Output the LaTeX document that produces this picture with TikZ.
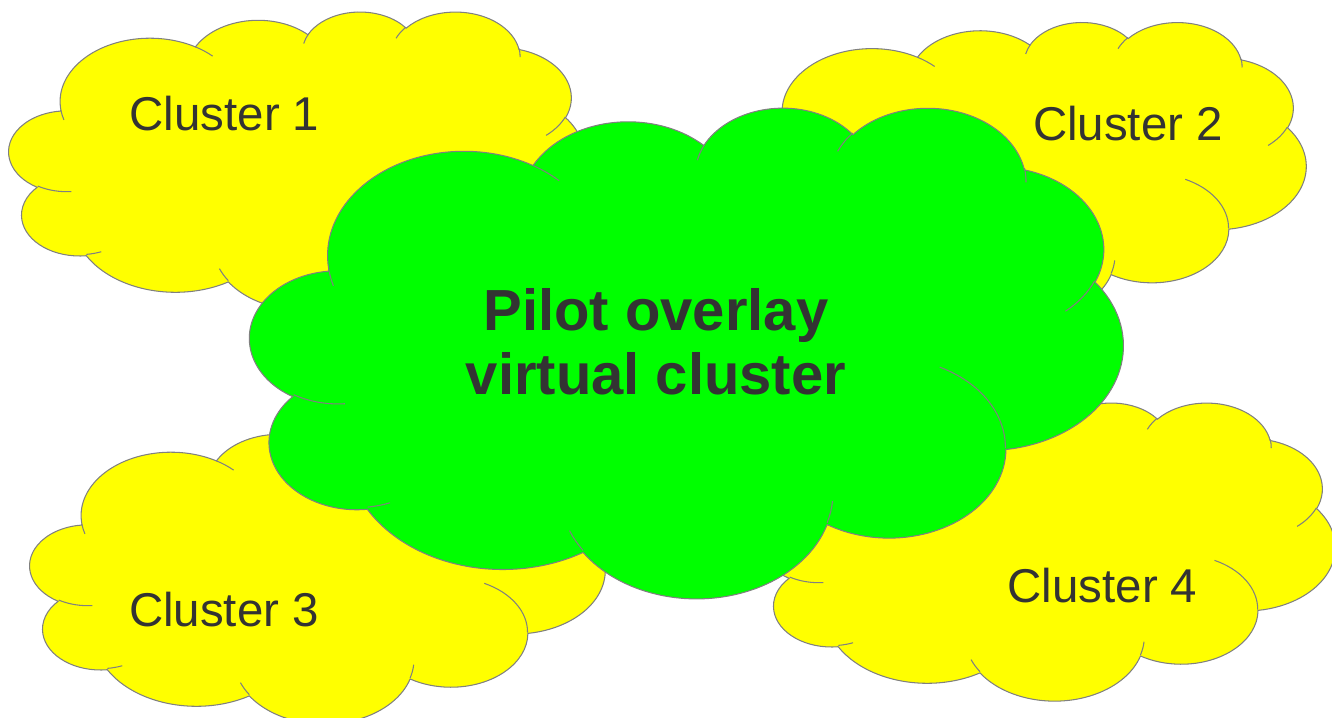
\documentclass[tikz,border=0pt]{standalone}
\usepackage{fontspec}
\setmainfont{Liberation Sans}
\usepackage{tikz}
\definecolor{outline}{HTML}{808080}
\definecolor{labtext}{HTML}{333333}
\definecolor{clusterfill}{HTML}{FFFF00}
\definecolor{pilotfill}{HTML}{00FF00}
\tikzset{
  cloudline/.style={draw=outline, line width=0.6pt},
  clusterlab/.style={text=labtext, font=\fontsize{27}{32}\selectfont, inner sep=0pt, anchor=base},
  pilotlab/.style={text=labtext, font=\fontsize{33}{36.85}\selectfont\bfseries, align=center, inner sep=0pt}
}
% cloud on a 100 x 100 box: #1,#2 top left corner, #3 width, #4 height, #5 fill
\newcommand{\cloudshape}[5]{%
  \begin{scope}[shift={(#1,#2)}, xscale=#3/100, yscale=#4/100]
    \filldraw[cloudline, fill=#5] (9.028,33.264)
      arc[start angle=172.26, end angle=300.37, x radius=15.632, y radius=21.273]
      arc[start angle=-152.02, end angle=-45.42, x radius=12.345, y radius=16.822]
      arc[start angle=-153.49, end angle=-37.32, x radius=10.104, y radius=13.762]
      arc[start angle=-139.71, end angle=-10.21, x radius=11.243, y radius=15.266]
      arc[start angle=-74.77, end angle=23.21, x radius=12.345, y radius=16.836]
      arc[start angle=-37.53, end angle=81.86, x radius=15.683, y radius=21.343]
      arc[start angle=0.46, end angle=121.98, x radius=13.391, y radius=18.211]
      arc[start angle=16.84, end angle=146.24, x radius=15.630, y radius=21.331]
      arc[start angle=58.98, end angle=150.20, x radius=17.870, y radius=24.405]
      arc[start angle=83.31, end angle=223.11, x radius=10.093, y radius=13.699]
      arc[start angle=120.36, end angle=264.11, x radius=10.058, y radius=13.762]
      -- cycle;
    % creases
    \draw[cloudline]
      (10.863,60.595) arc[start angle=85.55, end angle=120.36, x radius=10.058, y radius=13.762]
      (16.037,80.785) arc[start angle=68.23, end angle=83.31, x radius=10.093, y radius=13.699]
      (38.144,90.486) arc[start angle=146.24, end angle=158.47, x radius=15.630, y radius=21.331]
      (66.729,80.442) arc[start angle=4.74, end angle=16.84, x radius=15.630, y radius=21.331]
      (79.002,53.134) arc[start angle=-64.03, end angle=0.46, x radius=13.391, y radius=18.211]
      (96.755,35.542) arc[start angle=23.21, end angle=49.64, x radius=12.345, y radius=16.836]
      (88.713,12.560) arc[start angle=-10.21, end angle=0.82, x radius=11.243, y radius=15.266]
      (67.310,9.148) arc[start angle=-156.28, end angle=-139.71, x radius=11.243, y radius=15.266]
      (51.252,10.926) arc[start angle=-167.73, end angle=-153.49, x radius=10.104, y radius=13.762]
      (32.407,12.019) arc[start angle=-59.63, end angle=-45.74, x radius=15.632, y radius=21.273]
      (9.553,36.549) arc[start angle=163.19, end angle=172.26, x radius=15.632, y radius=21.273];
  \end{scope}}

\begin{document}
\begin{tikzpicture}[x=0.02cm, y=-0.02cm]
  \useasboundingbox (0,0) rectangle (1332,717);

  \cloudshape{9}{11}{575}{298}{clusterfill}
  \cloudshape{731}{21.5}{575}{297}{clusterfill}
  \cloudshape{30}{425}{575}{298}{clusterfill}
  \cloudshape{761}{402}{574}{298}{clusterfill}
  % overlay on top
  \cloudshape{250}{106.5}{873}{490.5}{pilotfill}

  \node[clusterlab] (cl1) at (224.5,130) {Cluster 1};
  \node[clusterlab] (cl2) at (1128,140) {Cluster 2};
  \node[clusterlab] (cl3) at (224,626.7) {Cluster 3};
  \node[clusterlab] (cl4) at (1102.5,602.7) {Cluster 4};
  \node[pilotlab] (pilot) at (656,341.7) {Pilot overlay\\virtual cluster};
\end{tikzpicture}
\end{document}
